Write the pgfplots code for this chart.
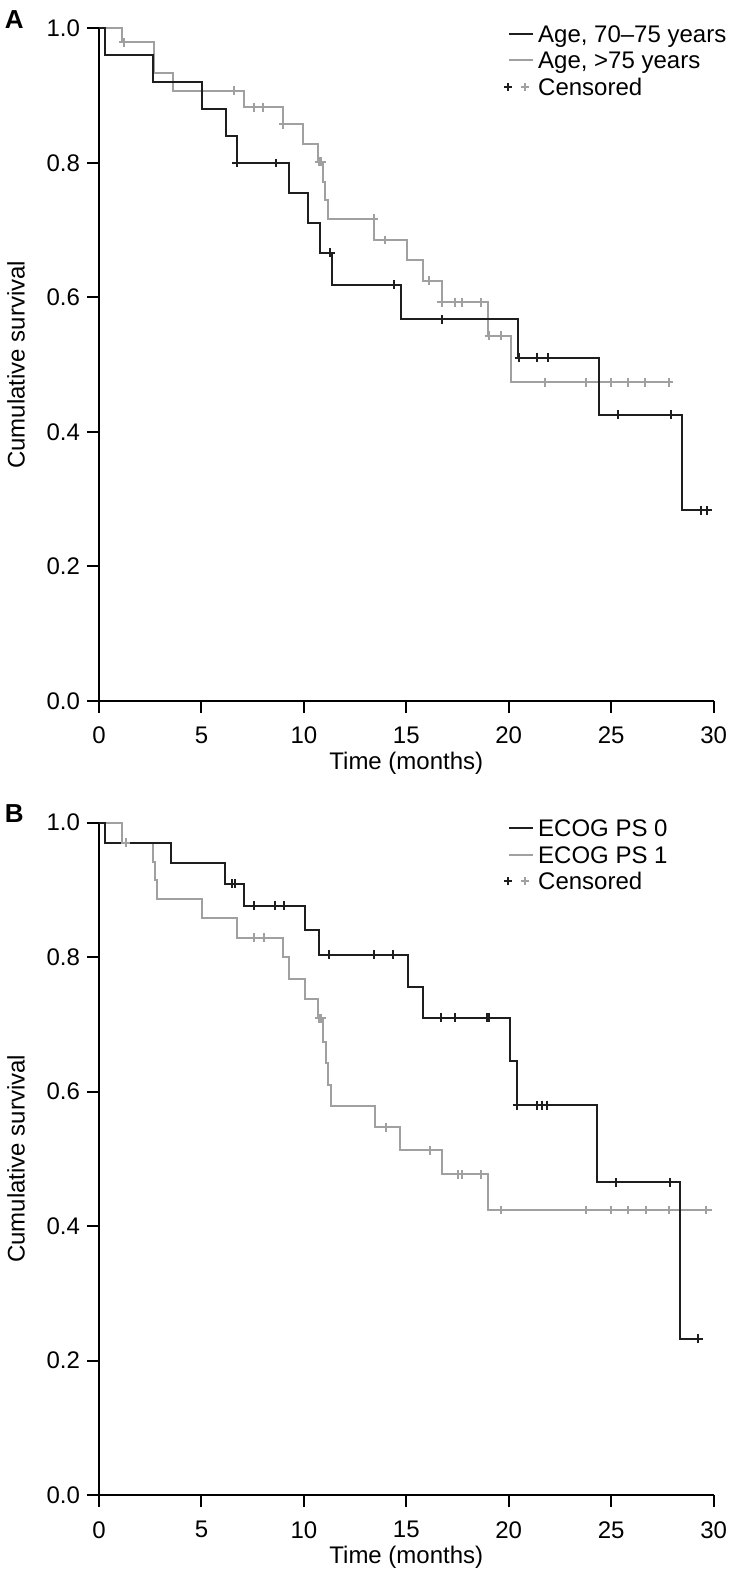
\documentclass[border=0pt]{standalone}
\usepackage{fontspec}
\setmainfont{Liberation Sans}
\usepackage{pgfplots}
\pgfplotsset{compat=1.18}
\definecolor{kmblack}{HTML}{1E1E1E}
\definecolor{kmgray}{HTML}{A0A0A0}
\pgfplotsset{
 kmaxis/.style={
  width=307.3pt, height=336.25pt, scale only axis,
  xmin=0, xmax=30, ymin=0, ymax=1,
  axis x line=bottom, axis y line=left,
  axis line style={-, line width=1pt, black},
  xtick={0,5,10,15,20,25,30}, xticklabels={0,5,10,15,20,25,30},
  ytick={0,0.2,0.4,0.6,0.8,1}, yticklabels={0.0,0.2,0.4,0.6,0.8,1.0},
  tick align=outside, major tick length=6pt,
  every tick/.style={black, line width=1pt},
  tick label style={font=\fontsize{12}{14}\selectfont},
  xticklabel style={yshift=-3.5pt},
  label style={font=\fontsize{12}{14}\selectfont},
  xlabel={Time (months)},
  ylabel={Cumulative survival},
  xlabel style={at={(axis description cs:0.5,-0.093)}, anchor=center},
  ylabel style={at={(axis description cs:-0.135,0.5)}, anchor=center},
  clip=false,
  legend cell align=left,
  legend style={draw=none, fill=none, at={(axis description cs:0.657,1.0076)}, anchor=north west,
    font=\fontsize{12}{14}\selectfont, inner sep=0pt, row sep=0pt, column sep=2pt,
    nodes={inner xsep=0pt, inner ysep=0pt, text height=9.3pt, text depth=4pt}},
 },
 kmb/.style={const plot, kmblack, line width=1pt, no marks, forget plot},
 kmg/.style={const plot, kmgray, line width=1pt, no marks, forget plot},
 cenb/.style={only marks, mark=+, mark size=2.2pt, mark options={kmblack, line width=1pt}, forget plot},
 ceng/.style={only marks, mark=+, mark size=2.2pt, mark options={kmgray, line width=1pt}, forget plot},
}
\newcommand{\lineimg}[1]{\addlegendimage{legend image code/.code={\path[draw=none,fill=none] (0pt,-3pt) rectangle (15pt,3pt); \draw[#1, line width=1pt] (2.5pt,1.6pt) -- (14.5pt,1.6pt);}}}
\newcommand{\censimg}{\addlegendimage{legend image code/.code={\path[draw=none,fill=none] (0pt,-3pt) rectangle (15pt,3pt);
  \draw[kmblack, line width=1pt] (0pt,1.6pt) -- (4pt,1.6pt) (2pt,-0.4pt) -- (2pt,3.6pt);
  \draw[kmgray, line width=1pt] (8.5pt,1.6pt) -- (12.5pt,1.6pt) (10.5pt,-0.4pt) -- (10.5pt,3.6pt);}}}
\newcommand{\panellabel}[1]{\node[font=\bfseries\fontsize{13}{15}\selectfont, anchor=center] at (axis description cs:-0.138,1.013) {#1};}
\begin{document}
\begin{tikzpicture}
\useasboundingbox (0,0) rectangle (364.5pt,789.5pt);
% Panel A
\begin{axis}[kmaxis, at={(49.5pt,439pt)}, anchor=south west]
\lineimg{kmblack}\addlegendentry{Age, 70–75 years}
\lineimg{kmgray}\addlegendentry{Age, >75 years}
\censimg\addlegendentry{Censored}
\addplot[kmg] coordinates {(0,1) (1.14,0.9795) (2.7,0.934) (3.6,0.9075) (7.07,0.8828) (8.96,0.8575) (9.97,0.8278) (10.67,0.802) (10.93,0.772) (11.05,0.745) (11.16,0.717) (13.4,0.6855) (15.05,0.656) (15.83,0.625) (16.72,0.593) (18.97,0.543) (20.09,0.474) (28.03,0.474)};
\addplot[ceng] coordinates {(1.2,0.9795) (6.6,0.9075) (7.56,0.8828) (8.0,0.8828) (8.99,0.8575) (10.75,0.802) (10.85,0.802) (13.4,0.717) (13.96,0.6855) (16.1,0.625) (16.72,0.593) (17.4,0.593) (17.73,0.593) (18.64,0.593) (19.05,0.543) (19.62,0.543) (21.77,0.474) (23.75,0.474) (24.97,0.474) (25.8,0.474) (26.65,0.474) (27.82,0.474)};
\addplot[kmb] coordinates {(0,1) (0.3,0.96) (2.65,0.92) (5.04,0.88) (6.2,0.84) (6.72,0.80) (9.27,0.7556) (10.18,0.7111) (10.8,0.6667) (11.36,0.6190) (14.74,0.5675) (20.47,0.5107) (24.4,0.4256) (28.44,0.2837) (29.7,0.2837)};
\addplot[cenb] coordinates {(6.72,0.80) (8.64,0.80) (11.3,0.6667) (14.4,0.619) (16.72,0.5675) (20.5,0.5107) (21.4,0.5107) (21.9,0.5107) (25.35,0.4256) (27.9,0.4256) (29.4,0.2837) (29.7,0.2837)};
\panellabel{A}
\end{axis}
% Panel B
\begin{axis}[kmaxis, at={(49.5pt,41.9pt)}, anchor=south west]
\lineimg{kmblack}\addlegendentry{ECOG PS 0}
\lineimg{kmgray}\addlegendentry{ECOG PS 1}
\censimg\addlegendentry{Censored}
\addplot[kmg] coordinates {(0,1) (1.14,0.970) (2.65,0.942) (2.75,0.915) (2.85,0.886) (5.04,0.858) (6.72,0.829) (8.96,0.801) (9.27,0.767) (10.05,0.738) (10.7,0.709) (10.95,0.674) (11.08,0.642) (11.19,0.610) (11.32,0.579) (13.47,0.547) (14.69,0.513) (16.72,0.477) (18.97,0.424) (29.9,0.424)};
\addplot[ceng] coordinates {(1.3,0.970) (7.56,0.829) (8.05,0.829) (10.75,0.709) (10.85,0.709) (14.0,0.547) (16.15,0.513) (17.54,0.477) (17.73,0.477) (18.64,0.477) (19.62,0.424) (23.75,0.424) (24.97,0.424) (25.8,0.424) (26.68,0.424) (27.82,0.424) (29.61,0.424)};
\addplot[kmb] coordinates {(0,1) (0.3,0.9697) (3.51,0.9394) (6.15,0.9091) (7.08,0.8766) (10.05,0.8401) (10.74,0.8035) (15.1,0.755) (15.8,0.710) (20.06,0.645) (20.38,0.580) (24.32,0.465) (28.34,0.2325) (29.3,0.2325)};
\addplot[cenb] coordinates {(6.5,0.9091) (6.62,0.9091) (7.58,0.8766) (8.59,0.8766) (9.05,0.8766) (11.24,0.8035) (13.42,0.8035) (14.33,0.8035) (16.69,0.710) (17.4,0.710) (18.95,0.710) (19.05,0.710) (20.4,0.580) (21.36,0.580) (21.6,0.580) (21.85,0.580) (25.26,0.465) (27.87,0.465) (29.25,0.2325)};
\panellabel{B}
\end{axis}
\end{tikzpicture}
\end{document}
